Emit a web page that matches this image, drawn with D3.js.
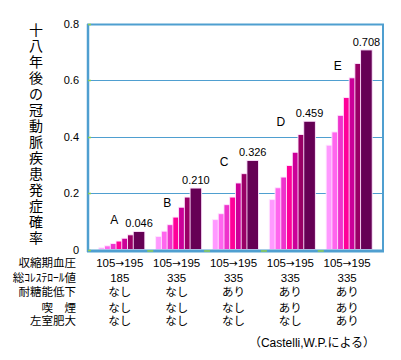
<!DOCTYPE html>
<html><head><meta charset="utf-8">
<script src="https://cdn.jsdelivr.net/npm/d3@7"></script>
<style>
html,body{margin:0;padding:0;background:#fff;}
svg{display:block;}
text{font-family:"Liberation Sans","Noto Sans CJK JP",sans-serif;fill:#000;}
</style></head>
<body>
<script>
// ---- data ----
const groups = ["A", "B", "C", "D", "E"];
const riskA = [0.006, 0.013, 0.021, 0.030, 0.040, 0.052, 0.064];
const riskB = [0.046, 0.065, 0.088, 0.115, 0.150, 0.186, 0.218];
const riskC = [0.106, 0.127, 0.159, 0.186, 0.236, 0.269, 0.316];
const riskD = [0.177, 0.219, 0.257, 0.298, 0.345, 0.408, 0.455];
const riskE = [0.370, 0.417, 0.476, 0.539, 0.609, 0.660, 0.708];
const valueLabels = ["0.046", "0.210", "0.326", "0.459", "0.708"];
const letterLevels = [0.107, 0.165, 0.313, 0.453, 0.654];
const yTicks = [0, 0.2, 0.4, 0.6, 0.8];
const yTitle = "十八年後の冠動脈疾患発症確率";
const rowLabels = ["収縮期血圧", "総ｺﾚｽﾃﾛｰﾙ値", "耐糖能低下", "喫　煙", "左室肥大"];
const bpRange = ["105→195", "105→195", "105→195", "105→195", "105→195"];
const cholesterol = ["185", "335", "335", "335", "335"];
const glucose = ["なし", "なし", "あり", "あり", "あり"];
const smoking = ["なし", "なし", "なし", "あり", "あり"];
const lvh = ["なし", "なし", "なし", "なし", "あり"];
const source = "（Castelli,W.P.による）";

const series = [riskA, riskB, riskC, riskD, riskE];
const tableRows = [bpRange, cholesterol, glucose, smoking, lvh];
const barColors = ["#ff99ff", "#ff66ee", "#ee33cc", "#ff0099", "#cc0099", "#990066", "#660055"];

const W = 401, H = 360;
const svg = d3.select("body").append("svg").attr("width", W).attr("height", H);

const x = d3.scaleBand().domain(groups).range([88, 383]).paddingInner(0.19).paddingOuter(0.19);
const y = d3.scaleLinear().domain([0, 0.8]).range([249.5, 24]);
const barW = x.bandwidth() * 0.252;
const xs = d3.scaleLinear().domain([0, 6]).range([0, x.bandwidth() - barW]);

const blue = "#4f9fd0";

// gridlines
svg.append("g").selectAll("line").data(yTicks.filter(d => d > 0 && d < 0.8)).join("line")
  .attr("x1", 88).attr("x2", 383)
  .attr("y1", d => Math.round(y(d)) + 0.5).attr("y2", d => Math.round(y(d)) + 0.5)
  .attr("stroke", blue).attr("stroke-width", 1);

// bars
const g = svg.append("g");
groups.forEach((grp, gi) => {
  g.append("g").selectAll("rect").data(series[gi]).join("rect")
    .attr("x", (d, i) => x(grp) + xs(i))
    .attr("y", d => y(d))
    .attr("width", barW)
    .attr("height", d => y(0) - y(d))
    .attr("fill", (d, i) => barColors[i])
    .attr("stroke", "#ffe6ff").attr("stroke-width", 0.9);
  const last = series[gi][6];
  svg.append("text").attr("x", x(grp) + xs(6) + barW / 2).attr("y", y(last) - 4)
    .attr("text-anchor", "middle").attr("font-size", 11).text(valueLabels[gi]);
  svg.append("text").attr("x", x(grp) + xs(1) + barW / 2 + (gi === 0 ? 4 : 0)).attr("y", y(letterLevels[gi]) + 4.5)
    .attr("text-anchor", "middle").attr("font-size", 12).text(grp);
});

// frame
svg.append("line").attr("x1", 87).attr("x2", 384).attr("y1", 24.5).attr("y2", 24.5).attr("stroke", blue).attr("stroke-width", 2);
svg.append("line").attr("x1", 383).attr("x2", 383).attr("y1", 24).attr("y2", 251).attr("stroke", blue).attr("stroke-width", 2);
svg.append("line").attr("x1", 88).attr("x2", 88).attr("y1", 24).attr("y2", 252).attr("stroke", blue).attr("stroke-width", 2.5);
svg.append("line").attr("x1", 87).attr("x2", 384).attr("y1", 251).attr("y2", 251).attr("stroke", blue).attr("stroke-width", 3);

// green tick marks
svg.append("g").selectAll("line").data(yTicks).join("line")
  .attr("x1", 88).attr("x2", 91)
  .attr("y1", d => Math.round(y(d)) + 0.5).attr("y2", d => Math.round(y(d)) + 0.5)
  .attr("stroke", "#8fcf4f").attr("stroke-width", 1.5);
svg.append("g").selectAll("line").data(groups.slice(1)).join("line")
  .attr("x1", d => x(d) - x.step() * 0.19 / 2 - 3).attr("x2", d => x(d) - x.step() * 0.19 / 2 + 3)
  .attr("y1", 251).attr("y2", 251).attr("stroke", "#8fcf4f").attr("stroke-width", 1.5);

// y tick labels
svg.append("g").selectAll("text").data(yTicks).join("text")
  .attr("x", 79).attr("y", d => y(d) + 4)
  .attr("text-anchor", "end").attr("font-size", 11)
  .text(d => d === 0 ? "0" : d3.format(".1f")(d));

// y title (vertical, one character per line)
svg.append("g").selectAll("text").data(Array.from(yTitle)).join("text")
  .attr("x", 36).attr("y", (d, i) => 30 + i * 16 + 5)
  .attr("text-anchor", "middle").attr("font-size", 14).text(d => d);

// table
const rowY = [263, 278, 292, 307.5, 321];
rowLabels.forEach((lab, ri) => {
  svg.append("text").attr("x", 76).attr("y", rowY[ri] + 4)
    .attr("text-anchor", "end").attr("font-size", 11.5).text(lab);
  const cells = svg.append("g").selectAll("text").data(tableRows[ri]).join("text")
    .attr("x", (d, i) => x(groups[i]) + x.bandwidth() / 2 - 2)
    .attr("y", rowY[ri] + 4)
    .attr("text-anchor", "middle").attr("font-size", 11.5);
  cells.each(function(d) {
    const t = d3.select(this);
    const parts = d.split("→");
    if (parts.length === 2) {
      t.append("tspan").text(parts[0]);
      t.append("tspan").attr("font-family", "DejaVu Sans").attr("font-size", 10.5).text("→");
      t.append("tspan").text(parts[1]);
    } else {
      t.text(d);
    }
  });
});

svg.append("text").attr("x", 312).attr("y", 346.5)
  .attr("text-anchor", "middle").attr("font-size", 12).text(source);
</script>
</body></html>
